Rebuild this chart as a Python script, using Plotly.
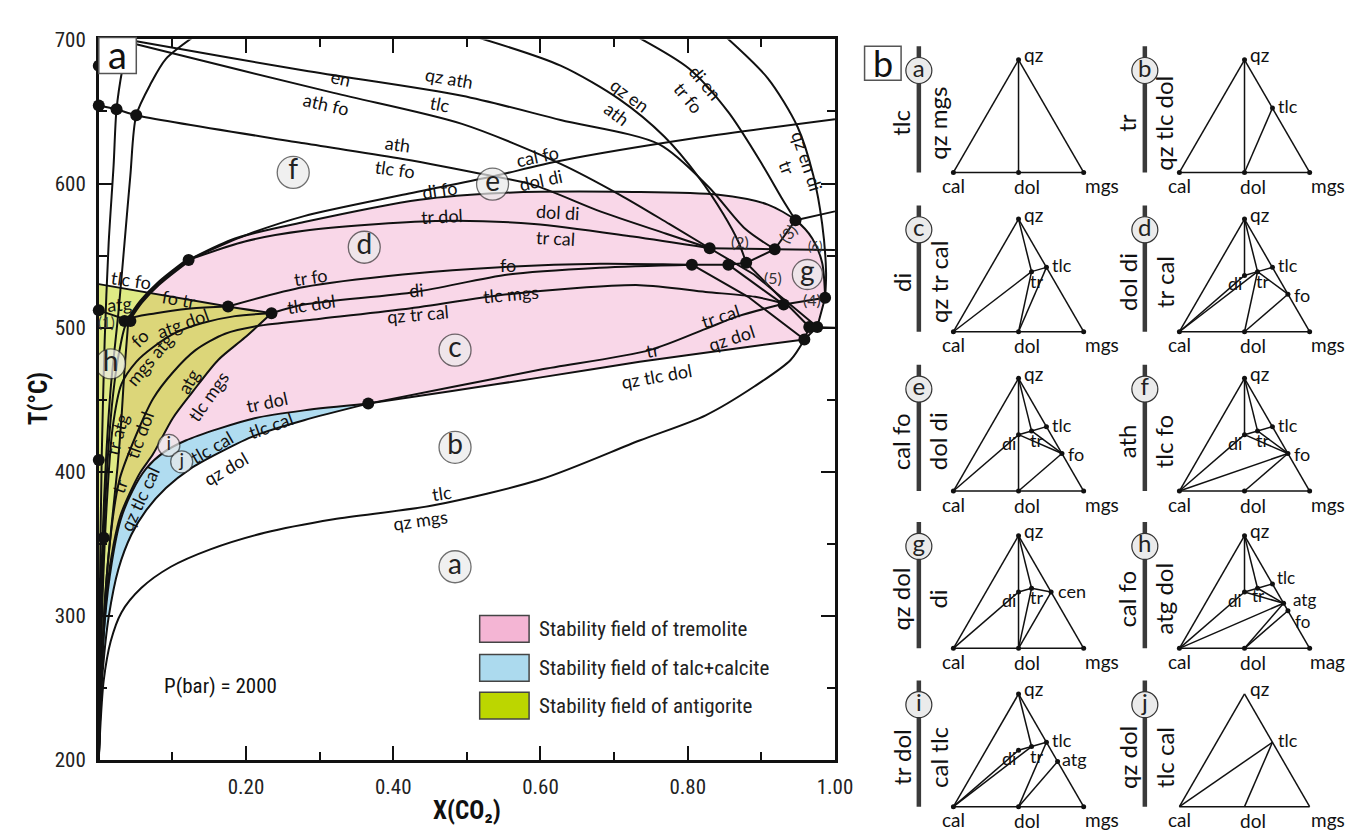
import plotly.graph_objects as go

FIG_W, FIG_H = 1368, 832

# ================= Panel (a): T - X(CO2) section, P = 2000 bar =================
ab_X = [0, 0.0027, 0.0067, 0.0161, 0.0308, 0.0576, 0.0979, 0.1515, 0.2252, 0.3190, 0.4531, 0.6005, 0.7346, 0.8244, 0.8914, 0.9397, 0.9584]
ab_T = [200, 228.3, 255.3, 282.2, 302.4, 319.3, 334.1, 346.2, 357.7, 367.1, 376.6, 394.8, 421.7, 439.2, 459.5, 477.6, 491.8]
bc_X = [0.3660, 0.4799, 0.6005, 0.7346, 0.8686, 0.9584]
bc_T = [447.3, 456.1, 465.5, 476.3, 485.7, 491.8]
trcal_X = [0.3660, 0.4799, 0.6005, 0.7480, 0.8244, 0.8686, 0.9316]
trcal_T = [447.3, 458.8, 470.9, 484.4, 499.2, 508.0, 516.7]
blueU_X = [0.3660, 0.2788, 0.2118, 0.1622, 0.1180, 0.0885, 0.0643, 0.0456, 0.0295, 0.0174, 0.0080, 0.0027, 0]
blueU_T = [447.3, 442.6, 437.2, 429.8, 421.7, 413.6, 402.2, 386.7, 366.4, 336.1, 295.7, 248.5, 200]
blueL_X = [0.3660, 0.2788, 0.2118, 0.1649, 0.1247, 0.0912, 0.0643, 0.0442, 0.0268, 0.0134, 0.0054, 0.0013, 0]
blueL_T = [447.3, 435.8, 425.1, 413.6, 402.2, 388.7, 373.2, 356.3, 332.7, 299.1, 262.0, 228.3, 200]
p1_X = [0.1220, 0.1850, 0.2788, 0.4357, 0.5469, 0.7252, 0.8418, 0.9088, 0.9464, 0.9692, 0.9826, 0.9866]
p1_T = [547.0, 561.9, 573.3, 588.8, 593.5, 594.2, 592.2, 585.4, 574.6, 561.9, 545.0, 520.8]
p1ext_X = [0.9464, 1.0]
p1ext_T = [574.6, 580.7]
p2_X = [0.1220, 0.1984, 0.2788, 0.4571, 0.5912, 0.7252, 0.8298]
p2_T = [547.0, 559.8, 567.2, 574.0, 572.0, 563.2, 555.1]
p3_X = [0.1220, 0.1984, 0.2788, 0.4129, 0.5295, 0.6273, 0.8150, 1.0]
p3_T = [547.0, 563.9, 577.4, 592.2, 604.3, 615.8, 631.9, 644.7]
athtlc_X = [0, 0.0241, 0.0509, 0.2788, 0.4129, 0.5295, 0.5912, 0.6810, 0.7708, 0.8298]
athtlc_T = [654.2, 651.5, 647.4, 627.9, 617.1, 605.7, 598.9, 580.7, 565.2, 555.1]
L1_X = [0.0375, 0.0509, 0.2788, 0.4933, 0.6273, 0.7614, 0.8284, 0.8780, 0.9182]
L1_T = [700, 698.7, 678.4, 660.9, 644.1, 627.2, 597.6, 568.6, 554.4]
L2_X = [0.0375, 0.0509, 0.3190, 0.4933, 0.6273, 0.7078, 0.7748, 0.8298]
L2_T = [698.7, 696.6, 662.9, 641.4, 613.7, 592.2, 572.0, 555.1]
T1_X = [0.5107, 0.6273, 0.7078, 0.7681, 0.8150, 0.8485, 0.8686, 0.8794]
T1_T = [702.0, 681.8, 658.2, 632.6, 604.3, 578.7, 559.8, 545.0]
T2_X = [0.7306, 0.8016, 0.8552, 0.9021, 0.9290, 0.9464]
T2_T = [702.0, 679.8, 649.5, 612.4, 588.8, 574.6]
T3_X = [0.8512, 0.9088, 0.9491, 0.9705, 0.9826, 0.9879, 0.9866]
T3_T = [702.0, 673.0, 639.4, 605.7, 572.0, 538.3, 520.8]
lineA_X = [0.1756, 0.2788, 0.4129, 0.5563, 0.6810, 0.8056, 0.8552, 0.8794]
lineA_T = [514.7, 528.2, 536.9, 542.3, 544.3, 543.7, 543.7, 545.0]
lineB_X = [0.2346, 0.2788, 0.4303, 0.5563, 0.6810, 0.8056]
lineB_T = [510.0, 516.0, 524.8, 536.9, 541.6, 543.7]
c1_X = [0, 0.004, 0.0107, 0.0188, 0.0282, 0.0402, 0.0777, 0.1247, 0.1756]
c1_T = [200, 309.2, 396.8, 450.7, 484.4, 505.2, 510.0, 513.3, 514.7]
c2_X = [0, 0.004, 0.0107, 0.0188, 0.0308, 0.0509, 0.0737, 0.1046, 0.1408, 0.1850, 0.2346]
c2_T = [200, 295.7, 376.6, 430.5, 460.8, 476.3, 486.4, 496.5, 503.2, 508.0, 510.0]
c3_X = [0, 0.0054, 0.0147, 0.0282, 0.0509, 0.0737, 0.1005, 0.1314, 0.1716, 0.2158, 0.2962, 0.4129, 0.5603, 0.7346, 0.8244, 0.8914, 0.9316]
c3_T = [200, 282.2, 349.6, 394.7, 425.7, 450.7, 468.9, 484.4, 495.8, 501.2, 505.9, 512.7, 523.4, 529.5, 524.8, 521.4, 516.7]
c4_X = [0, 0.0054, 0.0121, 0.0201, 0.0295, 0.0416, 0.0563, 0.0737, 0.1005, 0.1273, 0.1622, 0.1984, 0.2346]
c4_T = [200, 275.5, 322.6, 349.6, 369.8, 384.6, 399.5, 412.3, 437.2, 455.4, 477.6, 493.1, 510.0]
s_X = [0.0402, 0.0349, 0.0308, 0.0255, 0.0174, 0.008, 0]
s_T = [505.2, 470.9, 437.2, 403.5, 363.1, 309.2, 200]
tlcfo_X = [0, 0.1756, 0.2346]
tlcfo_T = [530.2, 514.7, 510.0]
thick_X = [0.1220, 0.0804, 0.0576, 0.0402]
thick_T = [547.0, 530.2, 518.1, 505.2]
v1_X = [0, 0.0013, 0.004, 0.008, 0.0134, 0.0201, 0.0241, 0.0322, 0.0416]
v1_T = [200, 309.2, 410.2, 491.1, 558.5, 612.4, 651.5, 679.8, 701.3]
v2_X = [0, 0.0027, 0.008, 0.0161, 0.0268, 0.0349, 0.0429, 0.0509, 0.0710, 0.0912, 0.1273]
v2_T = [200, 309.2, 390.0, 457.4, 511.3, 558.5, 605.7, 647.4, 669.7, 686.5, 701.3]

# short straight reaction segments around the invariant points: (X list, T list)
segments = [
    ([0, 0.0429], [512.0, 504.6]),
    ([0.8298, 0.9182], [555.1, 554.4]),
    ([0.9182, 0.9464], [554.4, 574.6]),
    ([0.9182, 1.0], [554.4, 553.8]),
    ([0.8794, 0.9182], [545.0, 554.4]),
    ([0.8552, 0.9303], [543.7, 516.0]),
    ([0.8794, 0.9651], [545.0, 500.5]),
    ([0.8298, 0.8901, 0.9759], [555.1, 536.9, 500.5]),
    ([0.8056, 0.8820, 0.9584], [543.7, 521.4, 491.8]),
    ([0.9303, 0.9866], [516.0, 520.8]),
    ([0.9866, 0.9759, 0.9584], [520.8, 500.5, 491.8]),
    ([0.9651, 1.0], [500.5, 499.9]),
    ([0.9584, 0.9651], [491.8, 500.5]),
]

dot_X = [0, 0, 0.0241, 0.0509, 0.1220, 0.1756, 0.2346, 0.3660, 0, 0.0349, 0.0429, 0, 0.0067,
         0.8056, 0.8298, 0.8552, 0.8794, 0.9182, 0.9464, 0.9303, 0.9866, 0.9651, 0.9759, 0.9584]
dot_T = [681.8, 654.2, 651.5, 647.4, 547.0, 514.7, 510.0, 447.3, 512.0, 504.6, 504.6, 408.2, 354.3,
         543.7, 555.1, 543.7, 545.0, 554.4, 574.6, 516.0, 520.8, 500.5, 500.5, 491.8]

field_names = ["a", "b", "c", "d", "e", "f", "g", "h", "i", "j"]
field_X = [0.4839, 0.4839, 0.4839, 0.3606, 0.5349, 0.2641, 0.9625, 0.0161, 0.0952, 0.1126]
field_T = [334.1, 417.0, 484.4, 555.8, 599.6, 607.7, 536.9, 474.9, 418.3, 406.9]
field_size = [32, 32, 32, 32, 32, 32, 30, 30, 22, 22]

# reaction labels: text, X, T, angle
rx_labels = [
    ("en", 0.3284, 673.0, 13), ("ath fo", 0.3083, 654.9, 13),
    ("qz ath", 0.4759, 673.0, 10), ("tlc", 0.4638, 654.9, 11),
    ("qz en", 0.7212, 661.6, 37), ("ath", 0.7038, 648.1, 37),
    ("di en", 0.8244, 669.7, 50), ("tr fo", 0.8016, 659.6, 50),
    ("qz en di", 0.9625, 615.8, 72), ("tr", 0.9357, 611.1, 70),
    ("ath", 0.4062, 627.2, 8), ("tlc fo", 0.4021, 610.4, 8),
    ("cal fo", 0.5965, 619.1, -12), ("dol di", 0.6005, 602.3, -12),
    ("di fo", 0.4625, 595.6, -8), ("tr dol", 0.4665, 577.4, -3),
    ("dol di", 0.6233, 580.1, 3), ("tr cal", 0.6206, 561.9, 3),
    ("fo", 0.5563, 543.7, 0), ("tlc mgs", 0.5603, 523.4, -5),
    ("di", 0.4303, 526.1, -5), ("qz tr cal", 0.4330, 509.3, -5),
    ("tr fo", 0.2882, 534.9, -8), ("tlc dol", 0.2882, 516.7, -8),
    ("tlc fo", 0.0442, 532.9, 8), ("fo tr", 0.1086, 520.1, 10),
    ("atg", 0.0282, 516.7, -5), ("fo", 0.0550, 493.1, -45),
    ("atg dol", 0.1139, 503.2, -20), ("mgs atg", 0.0684, 477.6, -50),
    ("atg", 0.1220, 462.8, -60), ("tlc mgs", 0.1488, 452.7, -55),
    ("tr dol", 0.2279, 448.6, -12), ("tlc cal", 0.2346, 432.5, -20),
    ("tlc cal", 0.1542, 417.0, -30), ("qz dol", 0.1716, 402.2, -30),
    ("tr atg", 0.0241, 425.7, -75), ("tlc dol", 0.0550, 425.7, -70),
    ("tr", 0.0282, 390.0, -70), ("qz tlc cal", 0.0550, 381.3, -65),
    ("tr", 0.7520, 484.4, -10), ("qz tlc dol", 0.7574, 466.2, -10),
    ("tr cal", 0.8445, 508.0, -18), ("qz dol", 0.8592, 492.5, -18),
    ("tlc", 0.4665, 385.3, -8), ("qz mgs", 0.4370, 366.4, -8),
]
num_labels = [
    ("(2)", 0.8713, 559.8, 0, 16), ("(3)", 0.9357, 565.2, -50, 16), ("(5)", 0.9155, 534.9, 0, 16),
    ("(6)", 0.9735, 557.0, 0, 13), ("(4)", 0.9692, 519.4, 0, 16), ("(1)", 0.0107, 503.9, 0, 15),
]

legend_text = ["Stability field of tremolite", "Stability field of talc+calcite", "Stability field of antigorite"]
legend_fill = ["#f4b5d4", "#acdaee", "#bcd600"]
legend_T = [291.0, 264.0, 237.7]

x_tickvals = [0.2, 0.4, 0.6, 0.8, 1.0]
x_ticktext = ["0.20", "0.40", "0.60", "0.80", "1.00"]
y_tickvals = [200, 300, 400, 500, 600, 700]

# ================= Panel (b): CaO-MgO-SiO2 chemographies =================
mineral_comp = {  # (Ca, Mg, Si) mole fractions
    "cal": (1, 0, 0), "dol": (0.5, 0.5, 0), "mgs": (0, 1, 0), "qz": (0, 0, 1),
    "tlc": (0, 3 / 7, 4 / 7), "tr": (2 / 15, 5 / 15, 8 / 15), "di": (0.25, 0.25, 0.5),
    "fo": (0, 2 / 3, 1 / 3), "atg": (0, 0.6, 0.4), "cen": (0, 0.5, 0.5),
}
tri_ids = ["a", "b", "c", "d", "e", "f", "g", "h", "i", "j"]
tri_left = ["tlc", "tr", "di", "dol di", "cal fo", "ath", "qz dol", "cal fo", "tr dol", "qz dol"]
tri_right = ["qz mgs", "qz tlc dol", "qz tr cal", "tr cal", "dol di", "tlc fo", "di", "atg dol", "cal tlc", "tlc cal"]
tri_ties = [
    [("qz", "dol")],
    [("qz", "dol"), ("dol", "tlc")],
    [("qz", "tr"), ("tr", "tlc"), ("cal", "tr"), ("dol", "tr"), ("dol", "tlc")],
    [("qz", "di"), ("qz", "tr"), ("di", "tr"), ("tr", "tlc"), ("tr", "fo"), ("cal", "di"), ("cal", "tr"), ("dol", "tr"), ("dol", "fo")],
    [("qz", "dol"), ("qz", "tr"), ("di", "tr"), ("tr", "tlc"), ("di", "fo"), ("tr", "fo"), ("cal", "di"), ("dol", "fo")],
    [("qz", "di"), ("qz", "tr"), ("di", "tr"), ("tr", "tlc"), ("di", "fo"), ("tr", "fo"), ("cal", "di"), ("cal", "fo"), ("dol", "fo")],
    [("qz", "dol"), ("qz", "tr"), ("di", "tr"), ("tr", "cen"), ("cal", "di"), ("dol", "tr"), ("dol", "cen")],
    [("qz", "di"), ("qz", "tr"), ("di", "tr"), ("tr", "tlc"), ("tr", "atg"), ("di", "atg"), ("cal", "di"), ("cal", "atg"), ("dol", "atg"), ("dol", "fo")],
    [("qz", "tr"), ("cal", "di"), ("cal", "tr"), ("di", "tr"), ("tr", "tlc"), ("dol", "tlc"), ("dol", "atg")],
    [("cal", "tlc"), ("dol", "tlc")],
]
tri_points = [[], ["tlc"], ["tr", "tlc"], ["di", "tr", "tlc", "fo"], ["di", "tr", "tlc", "fo"],
              ["di", "tr", "tlc", "fo"], ["di", "tr", "cen"], ["di", "tr", "tlc", "atg", "fo"],
              ["di", "tr", "tlc", "atg"], ["tlc"]]
tri_corner_mgs = ["mgs", "mgs", "mgs", "mgs", "mgs", "mgs", "mgs", "mag", "mgs", "mgs"]
tri_dots = [True] * 9 + [False]

# ---------------- styling constants ----------------
LAB_FONT = "Lato, Carlito, Calibri, sans-serif"
NARROW = "Liberation Sans Narrow, Arial Narrow, Roboto Condensed, Roboto, sans-serif"
INK = "#111111"

fig = go.Figure()

# ---- filled stability fields ----
pink_X = (p1_X + [0.9759, 0.9584] + bc_X[::-1][1:] + blueU_X[1:] + s_X[::-1][1:] + thick_X[::-1][1:])
pink_T = (p1_T + [500.5, 491.8] + bc_T[::-1][1:] + blueU_T[1:] + s_T[::-1][1:] + thick_T[::-1][1:])
fig.add_trace(go.Scatter(x=pink_X, y=pink_T, fill="toself", mode="lines", line=dict(width=0),
                         fillcolor="rgba(244,182,213,0.55)", hoverinfo="skip"))
blue_X = blueU_X + blueL_X[::-1]
blue_T = blueU_T + blueL_T[::-1]
fig.add_trace(go.Scatter(x=blue_X, y=blue_T, fill="toself", mode="lines", line=dict(width=0),
                         fillcolor="#b0dcf0", hoverinfo="skip"))
green_X = tlcfo_X + c4_X[::-1][1:]
green_T = tlcfo_T + c4_T[::-1][1:]
fig.add_trace(go.Scatter(x=green_X, y=green_T, fill="toself", mode="lines", line=dict(width=0),
                         fillcolor="rgba(188,214,0,0.48)", hoverinfo="skip"))

# ---- reaction curves ----
curves = [
    (ab_X, ab_T), (bc_X, bc_T), (trcal_X, trcal_T), (blueU_X, blueU_T), (blueL_X, blueL_T),
    (p1_X, p1_T), (p1ext_X, p1ext_T), (p2_X, p2_T), (p3_X, p3_T), (athtlc_X, athtlc_T),
    (L1_X, L1_T), (L2_X, L2_T), (T1_X, T1_T), (T2_X, T2_T), (T3_X, T3_T),
    (lineA_X, lineA_T), (lineB_X, lineB_T), (c1_X, c1_T), (c2_X, c2_T), (c3_X, c3_T),
    (c4_X, c4_T), (s_X, s_T), (tlcfo_X, tlcfo_T), (v1_X, v1_T), (v2_X, v2_T),
]
for cx, cy in curves:
    fig.add_trace(go.Scatter(x=cx, y=cy, mode="lines", line=dict(color=INK, width=2, shape="spline", smoothing=0.8),
                             hoverinfo="skip"))
for sx, sy in segments:
    fig.add_trace(go.Scatter(x=sx, y=sy, mode="lines", line=dict(color=INK, width=2), hoverinfo="skip"))
fig.add_trace(go.Scatter(x=thick_X, y=thick_T, mode="lines", line=dict(color=INK, width=4.5, shape="spline"),
                         hoverinfo="skip"))

# invariant points
fig.add_trace(go.Scatter(x=dot_X, y=dot_T, mode="markers", marker=dict(size=12, color=INK), cliponaxis=False,
                         hoverinfo="skip"))
# field letters
fig.add_trace(go.Scatter(x=field_X, y=field_T, mode="markers+text", text=field_names,
                         textposition="middle center",
                         textfont=dict(family=LAB_FONT, size=[28 if s > 25 else 19 for s in field_size], color="#222"),
                         marker=dict(size=field_size, color="#ebebeb", line=dict(color="#333", width=1.3)),
                         hoverinfo="skip"))

annotations = []
for txt, lx, ly, ang in rx_labels:
    annotations.append(dict(x=lx, y=ly, xref="x", yref="y", text=txt, showarrow=False, textangle=ang,
                            font=dict(family=LAB_FONT, size=18, color=INK)))
for txt, lx, ly, ang, fs in num_labels:
    annotations.append(dict(x=lx, y=ly, xref="x", yref="y", text=txt, showarrow=False, textangle=ang,
                            font=dict(family=LAB_FONT, size=fs, color="#333")))

annotations.append(dict(x=0.1649, y=251.2, xref="x", yref="y", text="P(bar) = 2000", showarrow=False,
                        font=dict(family=NARROW, size=21, color=INK)))

shapes = []
for txt, col, ly in zip(legend_text, legend_fill, legend_T):
    shapes.append(dict(type="rect", xref="x", yref="y", x0=0.5174, x1=0.5845, y0=ly - 9.3, y1=ly + 9.3,
                       fillcolor=col, line=dict(color="#444", width=1.5)))
    annotations.append(dict(x=0.5952, y=ly, xref="x", yref="y", text=txt, showarrow=False, xanchor="left",
                            font=dict(family=NARROW, size=21, color="#222")))

# panel tags
shapes.append(dict(type="rect", xref="paper", yref="paper", x0=92 / FIG_W, x1=130 / FIG_W,
                   y0=1 - 55 / FIG_H, y1=1 - 18 / FIG_H, fillcolor="white", line=dict(color="#555", width=1.5),
                   layer="above"))
annotations.append(dict(x=111 / FIG_W, y=1 - 35 / FIG_H, xref="paper", yref="paper", text="a", showarrow=False,
                        xanchor="center", yanchor="middle", font=dict(family=LAB_FONT, size=38, color=INK)))
shapes.append(dict(type="rect", xref="paper", yref="paper", x0=868 / FIG_W, x1=905 / FIG_W,
                   y0=1 - 62 / FIG_H, y1=1 - 27 / FIG_H, fillcolor="white", line=dict(color="#555", width=1.5)))
annotations.append(dict(x=886.5 / FIG_W, y=1 - 44 / FIG_H, xref="paper", yref="paper", text="b", showarrow=False,
                        xanchor="center", yanchor="middle", font=dict(family=LAB_FONT, size=36, color=INK)))

# axis titles
annotations.append(dict(x=31 / FIG_W, y=1 - 390 / FIG_H, xref="paper", yref="paper", text="<b>T(°C)</b>",
                        xanchor="center", yanchor="middle",
                        showarrow=False, textangle=-90, font=dict(family=NARROW, size=25, color=INK)))
annotations.append(dict(x=465 / FIG_W, y=1 - 814 / FIG_H, xref="paper", yref="paper", text="<b>X(CO₂)</b>",
                        xanchor="center", yanchor="middle",
                        showarrow=False, font=dict(family=NARROW, size=25, color=INK)))

# ================= Panel (b) =================
TRI_W, TRI_H = 132, 116
col_cal_px = [958, 1187]
row_base_px = [157, 321, 485, 647, 810]
PAD_L, PAD_R, PAD_B, PAD_T = 60, 40, 22, 20


def tern(name):
    ca, mg, si = mineral_comp[name]
    return mg + 0.5 * si, si


layout_axes = {}
for k, tid in enumerate(tri_ids):
    col, row = k % 2, k // 2
    cx, by = col_cal_px[col], row_base_px[row]
    n = k + 2
    xa, ya = f"x{n}", f"y{n}"
    layout_axes[f"xaxis{n}"] = dict(domain=[(cx - PAD_L) / FIG_W, (cx + TRI_W + PAD_R) / FIG_W],
                                    range=[-PAD_L / TRI_W, (TRI_W + PAD_R) / TRI_W], visible=False,
                                    anchor=ya, fixedrange=True)
    layout_axes[f"yaxis{n}"] = dict(domain=[(FIG_H - (by + PAD_B)) / FIG_H, (FIG_H - (by - TRI_H - PAD_T)) / FIG_H],
                                    range=[-PAD_B / TRI_H, (TRI_H + PAD_T) / TRI_H], visible=False,
                                    anchor=xa, fixedrange=True)
    # outline + tie lines
    lines = [("cal", "mgs"), ("mgs", "qz"), ("qz", "cal")] + tri_ties[k]
    lx, ly = [], []
    for a, b in lines:
        (x0, y0), (x1, y1) = tern(a), tern(b)
        lx += [x0, x1, None]
        ly += [y0, y1, None]
    fig.add_trace(go.Scatter(x=lx, y=ly, mode="lines", line=dict(color=INK, width=1.5), xaxis=xa, yaxis=ya,
                             hoverinfo="skip"))
    pts = ["cal", "dol", "mgs", "qz"] + tri_points[k]
    if tri_dots[k]:
        fig.add_trace(go.Scatter(x=[tern(p)[0] for p in pts], y=[tern(p)[1] for p in pts], mode="markers",
                                 marker=dict(size=5, color=INK), xaxis=xa, yaxis=ya, hoverinfo="skip"))
    # divider bar with field letter
    bar_x = -35 / TRI_W
    fig.add_trace(go.Scatter(x=[bar_x, bar_x], y=[0, 130 / TRI_H], mode="lines", line=dict(color="#3a3a3a", width=4.5),
                             xaxis=xa, yaxis=ya, hoverinfo="skip"))
    fig.add_trace(go.Scatter(x=[bar_x], y=[105 / TRI_H], mode="markers+text", text=[tid], textposition="middle center",
                             textfont=dict(family=LAB_FONT, size=24, color="#222"),
                             marker=dict(size=26, color="#ebebeb", line=dict(color="#333", width=1.2)),
                             xaxis=xa, yaxis=ya, cliponaxis=False, hoverinfo="skip"))
    annotations.append(dict(x=bar_x, y=0.44, xref=xa, yref=ya, xshift=-18, text=tri_left[k], showarrow=False,
                            textangle=-90, font=dict(family=LAB_FONT, size=24, color=INK)))
    annotations.append(dict(x=bar_x, y=0.44, xref=xa, yref=ya, xshift=19, text=tri_right[k], showarrow=False,
                            textangle=-90, font=dict(family=LAB_FONT, size=24, color=INK)))
    # corner labels
    corner = [("qz", "qz", 15, 5), ("cal", "cal", 0, -13), ("dol", "dol", 8, -14), ("mgs", tri_corner_mgs[k], 18, -13)]
    for name, txt, dx, dy in corner:
        px, py = tern(name)
        annotations.append(dict(x=px, y=py, xref=xa, yref=ya, xshift=dx, yshift=dy, text=txt, showarrow=False,
                                font=dict(family=LAB_FONT, size=19, color=INK)))
    offs = {"tlc": (16, 2), "tr": (5, -9), "di": (-10, -8), "fo": (14, -1), "atg": (17, 3), "cen": (21, 1)}
    for p in tri_points[k]:
        px, py = tern(p)
        dx, dy = offs[p]
        fs = 18
        if tid == "h":
            fs = 17
            if p == "fo":
                dx, dy = 15, -11
            elif p == "atg":
                dx, dy = 21, 4
            elif p == "tr":
                dx, dy = 1, -7
            elif p == "tlc":
                dx, dy = 14, 6
        annotations.append(dict(x=px, y=py, xref=xa, yref=ya, xshift=dx, yshift=dy, text=p, showarrow=False,
                                font=dict(family=LAB_FONT, size=fs, color=INK)))

fig.update_layout(
    width=FIG_W, height=FIG_H, margin=dict(l=0, r=0, t=0, b=0),
    paper_bgcolor="white", plot_bgcolor="rgba(0,0,0,0)", showlegend=False,
    xaxis=dict(domain=[92 / FIG_W, 838 / FIG_W], range=[0, 1], tickvals=x_tickvals, ticktext=x_ticktext,
               ticks="inside", ticklen=14, tickwidth=2, tickcolor=INK, showline=True, linewidth=2.5,
               linecolor=INK, mirror="ticks", showgrid=False, zeroline=False,
               minor=dict(tickvals=[0.1, 0.3, 0.5, 0.7, 0.9], ticks="inside", ticklen=8, tickwidth=2, tickcolor=INK),
               tickfont=dict(family=NARROW, size=21, color="#222"), ticklabelstandoff=6, anchor="y"),
    yaxis=dict(domain=[(FIG_H - 762) / FIG_H, (FIG_H - 20) / FIG_H], range=[200, 700], tickvals=y_tickvals,
               ticks="inside", ticklen=14, tickwidth=2, tickcolor=INK, showline=True, linewidth=2.5,
               linecolor=INK, mirror="ticks", showgrid=False, zeroline=False,
               minor=dict(tickvals=[250, 350, 450, 550, 650], ticks="inside", ticklen=8, tickwidth=2, tickcolor=INK),
               tickfont=dict(family=NARROW, size=21, color="#222"), ticklabelstandoff=6, anchor="x"),
    annotations=annotations, shapes=shapes,
    **layout_axes,
)

fig.write_html("out.html")
